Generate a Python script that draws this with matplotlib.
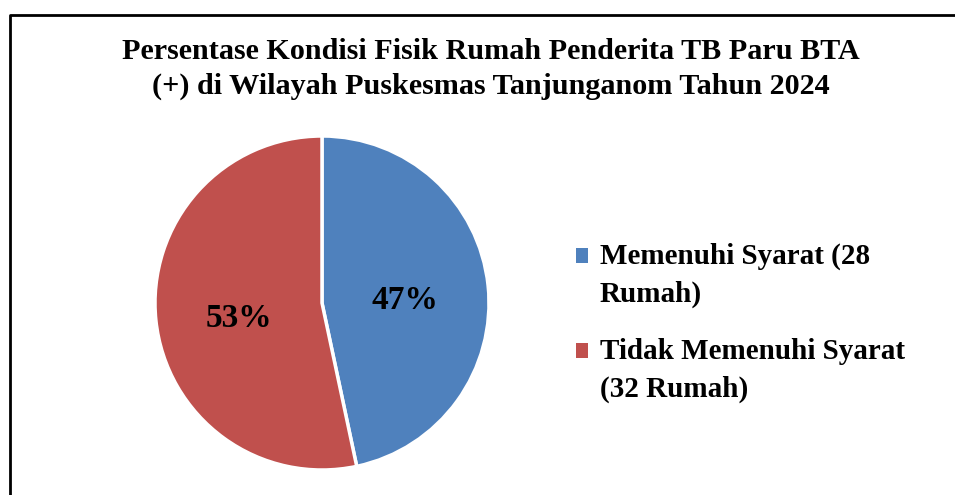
import matplotlib.pyplot as plt
from matplotlib.lines import Line2D
from matplotlib.patches import Rectangle
from matplotlib.legend_handler import HandlerPatch

# data
labels = ['Memenuhi Syarat (28\nRumah)', 'Tidak Memenuhi Syarat\n(32 Rumah)']
jumlah_rumah = [28, 32]
warna = ['#4F81BD', '#C0504D']
judul = 'Persentase Kondisi Fisik Rumah Penderita TB Paru BTA\n(+) di Wilayah Puskesmas Tanjunganom Tahun 2024'

plt.rcParams['font.family'] = ['Liberation Serif', 'DejaVu Serif']

W, H = 955, 495
fig = plt.figure(figsize=(W / 100, H / 100), dpi=100)

# pie axes: center (322, 303) px, radius 167 px
r = 167
ax = fig.add_axes([(322 - r) / W, (H - 303 - r) / H, 2 * r / W, 2 * r / H])
wedges, texts, autotexts = ax.pie(jumlah_rumah, colors=warna, startangle=90, counterclock=False,
                                  autopct='%1.0f%%', pctdistance=0.5,
                                  wedgeprops=dict(edgecolor='white', linewidth=2.5),
                                  textprops=dict(fontsize=24, fontweight='bold', color='black'))
for t in autotexts:
    x, y = t.get_position()
    t.set_position((x, y - 0.04))
ax.set_xlim(-1, 1)
ax.set_ylim(-1, 1)
ax.set_aspect('equal')

fig.text(491 / W, 1 - 69 / H, judul, ha='center', va='center', fontsize=21.7,
         fontweight='bold', linespacing=1.4)


# legend square sits on the first line of the two-line label
def kotak_atas(legend, orig_handle, xdescent, ydescent, width, height, fontsize):
    return Rectangle((-xdescent, -ydescent + 14.4), width, height)


leg = fig.legend(wedges, labels, loc='center left', bbox_to_anchor=(550 / W, 1 - 323 / H),
                 frameon=False, prop=dict(size=21, weight='bold'), handlelength=0.4,
                 handleheight=0.4, handletextpad=0.4, labelspacing=1.04,
                 handler_map={w: HandlerPatch(patch_func=kotak_atas) for w in wedges})
for h in leg.legend_handles:
    h.set_edgecolor('none')
for t in leg.get_texts():
    t.set_linespacing(1.5)

# outer border (top and left visible)
fig.add_artist(Line2D([9.5 / W, 9.5 / W, 1], [0, 1 - 14.5 / H, 1 - 14.5 / H],
                      transform=fig.transFigure, color='black', linewidth=2))

fig.savefig('out.png', dpi=100)
